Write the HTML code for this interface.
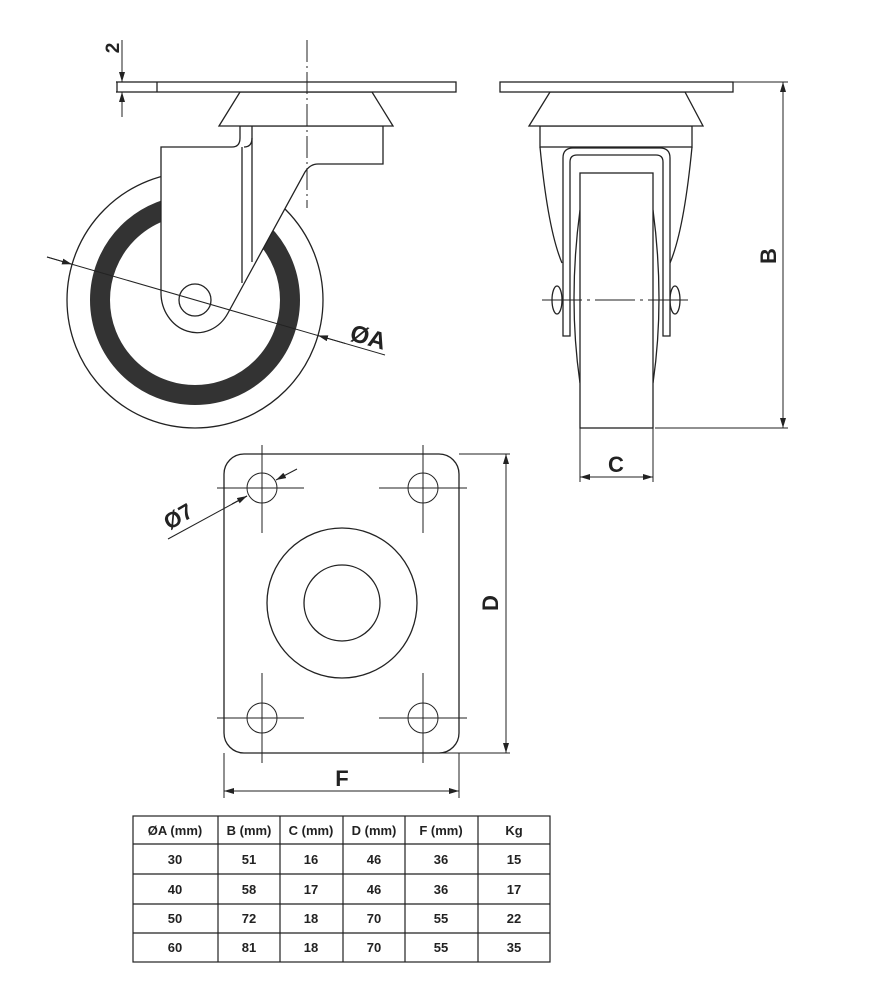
<!DOCTYPE html>
<html><head><meta charset="utf-8"><style>
html,body{margin:0;padding:0;background:#fff;}
svg{display:block;}
text{font-family:"Liberation Sans",Arial,sans-serif;font-weight:bold;fill:#222;}
</style></head><body>
<svg width="886" height="1000" viewBox="0 0 886 1000" xmlns="http://www.w3.org/2000/svg">
<defs>
<marker id="ar" markerWidth="10" markerHeight="6" refX="10" refY="3" orient="auto" markerUnits="userSpaceOnUse"><path d="M0,0 L10,3 L0,6 Z" fill="#222"/></marker>
<marker id="al" markerWidth="10" markerHeight="6" refX="0" refY="3" orient="auto" markerUnits="userSpaceOnUse"><path d="M10,0 L0,3 L10,6 Z" fill="#222"/></marker>
</defs>
<g stroke="#222" stroke-width="1.3" fill="none">
<!-- LEFT VIEW -->
<circle cx="195" cy="300" r="128" fill="#fff"/>
<circle cx="195" cy="300" r="95" stroke="#333" stroke-width="20"/>
<!-- fork body -->
<path d="M161,147 L232,147 Q240,147 240,138 L240,126 L383,126 L383,164 L318,164 Q310,164 305,172 L228,313 A36 40 0 0 1 161,292 Z" fill="#fff"/>
<line x1="242" y1="147" x2="242" y2="283"/>
<line x1="252" y1="126" x2="252" y2="262"/>
<path d="M252,138 Q252,147 244,147" />
<circle cx="195" cy="300" r="16" fill="#fff"/>
<!-- cone & plate -->
<path d="M219,126 L240,92 L372,92 L393,126 Z" fill="#fff"/>
<rect x="117" y="82" width="339" height="10" fill="#fff"/>
<line x1="157" y1="82" x2="157" y2="92"/>
<line x1="307" y1="40" x2="307" y2="208" stroke-dasharray="22,4,2,4" stroke-width="1"/>
<!-- dim 2 -->
<line x1="122" y1="40" x2="122" y2="82" marker-end="url(#ar)" stroke-width="1"/>
<line x1="122" y1="117" x2="122" y2="92" marker-end="url(#ar)" stroke-width="1"/>
<line x1="116" y1="82" x2="117" y2="82"/><line x1="116" y1="92" x2="117" y2="92"/>
<!-- ØA -->
<line x1="47" y1="257" x2="385" y2="355" stroke-width="1"/>
<line x1="47" y1="257" x2="72" y2="264.3" marker-end="url(#ar)" stroke-width="1"/>
<line x1="345" y1="343.4" x2="318" y2="335.5" marker-end="url(#ar)" stroke-width="1"/>

<!-- RIGHT VIEW -->
<path d="M540,147 Q548,230 562,263 M692,147 Q684,230 670,263"/>
<path d="M580,210 Q568,300 580,383 M653,210 Q665,300 653,383"/>
<ellipse cx="557" cy="300" rx="5" ry="14" fill="#fff"/>
<ellipse cx="675" cy="300" rx="5" ry="14" fill="#fff"/>
<path d="M563,336 L563,158 Q563,148 573,148 L660,148 Q670,148 670,158 L670,336 L663,336 L663,162 Q663,155 656,155 L577,155 Q570,155 570,162 L570,336 Z" fill="#fff"/>
<rect x="580" y="173" width="73" height="255" fill="#fff"/>
<line x1="542" y1="300" x2="693" y2="300" stroke-dasharray="40,5,3,5" stroke-width="1"/>
<rect x="540" y="126" width="152" height="21" fill="#fff"/>
<path d="M529,126 L550,92 L685,92 L703,126 Z" fill="#fff"/>
<rect x="500" y="82" width="233" height="10" fill="#fff"/>
<!-- B dim -->
<line x1="733" y1="82" x2="788" y2="82" stroke-width="1"/>
<line x1="655" y1="428" x2="788" y2="428" stroke-width="1"/>
<line x1="783" y1="255" x2="783" y2="82" marker-end="url(#ar)" stroke-width="1"/>
<line x1="783" y1="255" x2="783" y2="428" marker-end="url(#ar)" stroke-width="1"/>
<!-- C dim -->
<line x1="580" y1="428" x2="580" y2="482" stroke-width="1"/>
<line x1="653" y1="428" x2="653" y2="482" stroke-width="1"/>
<line x1="616" y1="477" x2="580" y2="477" marker-end="url(#ar)" stroke-width="1"/>
<line x1="616" y1="477" x2="653" y2="477" marker-end="url(#ar)" stroke-width="1"/>

<!-- PLATE VIEW -->
<rect x="224" y="454" width="235" height="299" rx="20" ry="20" fill="#fff"/>
<circle cx="342" cy="603" r="75"/>
<circle cx="342" cy="603" r="38"/>
<g stroke-width="1">
<circle cx="262" cy="488" r="15"/><circle cx="423" cy="488" r="15"/>
<circle cx="262" cy="718" r="15"/><circle cx="423" cy="718" r="15"/>
<line x1="217" y1="488" x2="304" y2="488"/><line x1="379" y1="488" x2="467" y2="488"/>
<line x1="217" y1="718" x2="304" y2="718"/><line x1="379" y1="718" x2="467" y2="718"/>
<line x1="262" y1="445" x2="262" y2="533"/><line x1="423" y1="445" x2="423" y2="533"/>
<line x1="262" y1="673" x2="262" y2="763"/><line x1="423" y1="673" x2="423" y2="763"/>
<!-- Ø7 -->
<line x1="168" y1="539" x2="247" y2="496" />
<line x1="232" y1="504" x2="247" y2="496" marker-end="url(#ar)"/>
<line x1="297" y1="469" x2="276" y2="480" marker-end="url(#ar)"/>
<!-- D -->
<line x1="459" y1="454" x2="510" y2="454"/><line x1="440" y1="753" x2="510" y2="753"/>
<line x1="506" y1="603" x2="506" y2="454" marker-end="url(#ar)"/>
<line x1="506" y1="603" x2="506" y2="753" marker-end="url(#ar)"/>
<!-- F -->
<line x1="224" y1="753" x2="224" y2="798"/><line x1="459" y1="753" x2="459" y2="798"/>
<line x1="342" y1="791" x2="224" y2="791" marker-end="url(#ar)"/>
<line x1="342" y1="791" x2="459" y2="791" marker-end="url(#ar)"/>
</g>

<!-- TABLE -->
<g stroke-width="1.2">
<rect x="133" y="816" width="417" height="146"/>
<line x1="218" y1="816" x2="218" y2="962"/><line x1="280" y1="816" x2="280" y2="962"/>
<line x1="343" y1="816" x2="343" y2="962"/><line x1="405" y1="816" x2="405" y2="962"/>
<line x1="478" y1="816" x2="478" y2="962"/>
<line x1="133" y1="844" x2="550" y2="844"/><line x1="133" y1="874" x2="550" y2="874"/>
<line x1="133" y1="904" x2="550" y2="904"/><line x1="133" y1="933" x2="550" y2="933"/>
</g>
</g>

<text x="114" y="48" font-size="19" text-anchor="middle" transform="rotate(-90 114 48)" dominant-baseline="middle">2</text>
<text x="366" y="345" font-size="24" text-anchor="middle" transform="rotate(16 366 345)">ØA</text>
<text x="770" y="256" font-size="22" text-anchor="middle" transform="rotate(-90 770 256)" dominant-baseline="middle">B</text>
<text x="616" y="472" font-size="22" text-anchor="middle">C</text>
<text x="182" y="523" font-size="22" text-anchor="middle" transform="rotate(-30 182 523)">Ø7</text>
<text x="492" y="603" font-size="22" text-anchor="middle" transform="rotate(-90 492 603)" dominant-baseline="middle">D</text>
<text x="342" y="786" font-size="22" text-anchor="middle">F</text>

<g font-size="13" text-anchor="middle">
<text x="175" y="835">ØA (mm)</text><text x="249" y="835">B (mm)</text><text x="311" y="835">C (mm)</text><text x="374" y="835">D (mm)</text><text x="441" y="835">F (mm)</text><text x="514" y="835">Kg</text>
<text x="175" y="864">30</text><text x="249" y="864">51</text><text x="311" y="864">16</text><text x="374" y="864">46</text><text x="441" y="864">36</text><text x="514" y="864">15</text>
<text x="175" y="894">40</text><text x="249" y="894">58</text><text x="311" y="894">17</text><text x="374" y="894">46</text><text x="441" y="894">36</text><text x="514" y="894">17</text>
<text x="175" y="923">50</text><text x="249" y="923">72</text><text x="311" y="923">18</text><text x="374" y="923">70</text><text x="441" y="923">55</text><text x="514" y="923">22</text>
<text x="175" y="952">60</text><text x="249" y="952">81</text><text x="311" y="952">18</text><text x="374" y="952">70</text><text x="441" y="952">55</text><text x="514" y="952">35</text>
</g>
</svg>
</body></html>
